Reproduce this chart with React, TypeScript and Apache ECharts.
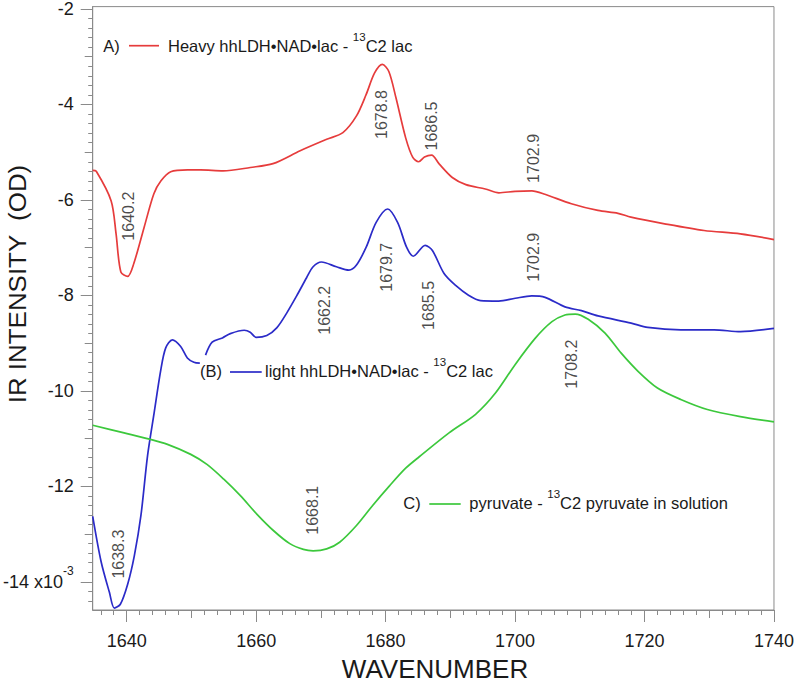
import React, { useEffect, useRef } from "react";
import * as echarts from "echarts";

// ---- Data ----
const redWavenumber = [1634.75, 1635.3, 1637.6, 1638.35, 1639.1, 1640.15, 1641.1, 1642.7, 1644.2, 1645.3, 1646.8, 1649.4, 1651.4, 1654.9, 1659.1, 1662.6, 1666.8, 1670.9, 1673.4, 1675.5, 1677.0, 1678.3, 1679.5, 1680.5, 1681.6, 1683.1, 1684.2, 1685.1, 1686.0, 1687.1, 1688.3, 1690.3, 1692.4, 1695.4, 1697.5, 1700.0, 1702.6, 1704.6, 1708.7, 1712.8, 1715.9, 1717.9, 1723.1, 1729.2, 1734.8, 1740];
const redIntensity = [-5.38, -5.40, -6.02, -6.70, -7.51, -7.60, -7.33, -6.57, -5.87, -5.60, -5.41, -5.37, -5.37, -5.39, -5.32, -5.24, -4.97, -4.73, -4.59, -4.24, -3.79, -3.34, -3.16, -3.31, -3.86, -4.70, -5.11, -5.20, -5.10, -5.06, -5.25, -5.53, -5.68, -5.77, -5.85, -5.82, -5.81, -5.88, -6.08, -6.22, -6.28, -6.36, -6.50, -6.64, -6.71, -6.83];

const blueWavenumber = [1634.75, 1636.05, 1637.33, 1638.1, 1639.02, 1640.15, 1641.17, 1642.2, 1643.22, 1644.24, 1645.27, 1646.03, 1647.06, 1648.34, 1649.37, 1650.38, 1651.3, 1651.7, 1652.18, 1653.2, 1654.79, 1656.01, 1658.16, 1659.08, 1660.01, 1661.65, 1663.18, 1664.72, 1666.26, 1667.79, 1668.8, 1670.09, 1672.4, 1674.33, 1675.47, 1677.0, 1678.54, 1680.32, 1681.85, 1683.24, 1684.27, 1686.11, 1687.23, 1689.03, 1690.82, 1692.86, 1694.66, 1697.47, 1700.03, 1702.58, 1704.64, 1707.71, 1710.26, 1712.82, 1717.94, 1720.5, 1725.61, 1730.74, 1734.83, 1740];
const blueIntensity = [-12.63, -13.58, -14.22, -14.55, -14.47, -14.05, -13.46, -12.61, -11.36, -10.46, -9.56, -9.10, -8.93, -9.07, -9.31, -9.40, -9.42, null, -9.25, -8.98, -8.89, -8.80, -8.73, -8.77, -8.88, -8.84, -8.68, -8.37, -8.01, -7.63, -7.40, -7.30, -7.40, -7.47, -7.37, -6.99, -6.47, -6.19, -6.47, -6.99, -7.18, -6.95, -7.06, -7.54, -7.79, -8.00, -8.11, -8.12, -8.06, -8.01, -8.04, -8.24, -8.32, -8.43, -8.58, -8.67, -8.72, -8.72, -8.76, -8.69];

const greenWavenumber = [1634.75, 1639.6, 1643.5, 1646.3, 1649.9, 1652.4, 1655.0, 1657.6, 1660.1, 1662.7, 1665.2, 1667.3, 1668.8, 1670.9, 1672.9, 1675.5, 1678.0, 1680.6, 1683.1, 1685.2, 1689.8, 1693.9, 1697.0, 1700.0, 1703.1, 1705.7, 1707.7, 1709.3, 1711.3, 1713.9, 1716.4, 1719.0, 1722.0, 1725.6, 1729.7, 1734.8, 1740];
const greenIntensity = [-10.72, -10.88, -11.01, -11.12, -11.33, -11.54, -11.85, -12.20, -12.58, -12.93, -13.20, -13.32, -13.35, -13.31, -13.17, -12.82, -12.40, -11.99, -11.62, -11.38, -10.88, -10.49, -10.04, -9.45, -8.90, -8.55, -8.41, -8.39, -8.50, -8.79, -9.21, -9.59, -9.94, -10.18, -10.39, -10.54, -10.65];

// peak annotations: anchor wavenumber, anchor intensity, text
const peakWavenumber = [1640.27, 1638.66, 1679.43, 1687.03, 1702.84, 1702.92, 1680.12, 1686.57, 1670.6, 1668.76, 1708.68];
const peakIntensity = [-6.34, -13.42, -4.21, -4.45, -5.13, -7.20, -7.41, -8.21, -8.31, -12.5, -9.44];
const peakText = ["1640.2", "1638.3", "1678.8", "1686.5", "1702.9", "1702.9", "1679.7", "1685.5", "1662.2", "1668.1", "1708.2"];

const xMajorTicks = [1640, 1660, 1680, 1700, 1720, 1740];
const xMidTicks = [1650, 1670, 1690, 1710, 1730];
const yMajorTicks = [-14, -12, -10, -8, -6, -4, -2];
const yMidTicks = [-13, -11, -9, -7, -5, -3];
const xMinorTicks = Array.from({ length: 53 }, (_, i) => 1636 + 2 * i);
const yMinorTicks = Array.from({ length: 63 }, (_, i) => Math.round((-14.4 + 0.2 * i) * 10) / 10);

const X_MIN = 1634.75;
const X_MAX = 1740;
const Y_MIN = -14.59;
const Y_MAX = -1.95;

const FONT = "'Liberation Sans', Arial, Helvetica, sans-serif";
const GRAY = "#8a8a8a";
const TEXT = "#1a1a1a";
const RED = "#e63c3c";
const BLUE = "#2b2bc8";
const GREEN = "#3cc83c";

function pairs(xs: number[], ys: (number | null)[]) {
  return xs.map((x, i) => [x, ys[i] === null ? "-" : ys[i]]);
}

function tickAxis(kind: "x" | "y", values: number[], length: number, withLabels: boolean) {
  const isX = kind === "x";
  const axis: any = {
    type: "value",
    min: isX ? X_MIN : Y_MIN,
    max: isX ? X_MAX : Y_MAX,
    position: isX ? "bottom" : "left",
    gridIndex: 0,
    splitLine: { show: false },
    axisLine: { show: withLabels, lineStyle: { color: GRAY, width: 1 } },
    axisTick: {
      show: true,
      inside: false,
      length,
      customValues: values,
      lineStyle: { color: GRAY, width: 1 },
    },
    axisLabel: { show: false },
  };
  if (withLabels) {
    if (isX) {
      axis.axisLabel = {
        show: true,
        customValues: values,
        margin: 22,
        fontSize: 18,
        fontFamily: FONT,
        color: TEXT,
        formatter: (v: number) => String(v),
      };
    } else {
      axis.axisLabel = {
        show: true,
        customValues: values,
        margin: 19,
        fontSize: 18,
        fontFamily: FONT,
        color: TEXT,
        formatter: (v: number) => (v === -14 ? "{m|-14 x10}{s|-3}" : String(v)),
        rich: {
          m: { fontSize: 18, fontFamily: FONT, color: TEXT, lineHeight: 34, verticalAlign: "middle" },
          s: { fontSize: 12, fontFamily: FONT, color: TEXT, lineHeight: 12, verticalAlign: "top" },
        },
      };
    }
  }
  return axis;
}

function legendItem(labelX: number, lineX1: number, lineX2: number, textX: number, cy: number, lineY: number, color: string, tag: string, before: string, after: string) {
  const rich = {
    t: { fontSize: 16.5, fontFamily: FONT, fill: TEXT, lineHeight: 30, verticalAlign: "middle" },
    s: { fontSize: 11.5, fontFamily: FONT, fill: TEXT, lineHeight: 12, verticalAlign: "top" },
  };
  return [
    {
      type: "text",
      x: labelX,
      y: cy,
      silent: true,
      style: { text: tag, fontSize: 16.5, fontFamily: FONT, fill: TEXT, align: "left", verticalAlign: "middle" },
    },
    {
      type: "line",
      silent: true,
      shape: { x1: lineX1, y1: lineY, x2: lineX2, y2: lineY },
      style: { stroke: color, lineWidth: 1.7 },
    },
    {
      type: "text",
      x: textX,
      y: cy,
      silent: true,
      style: {
        text: `{t|${before}}{s|13}{t|${after}}`,
        rich,
        align: "left",
        verticalAlign: "middle",
      },
    },
  ];
}

export default function App() {
  const ref = useRef<HTMLDivElement>(null);

  useEffect(() => {
    if (!ref.current) return;
    const chart = echarts.init(ref.current, null, { renderer: "svg" });

    const lineSeries = (name: string, data: any[], color: string) => ({
      name,
      type: "line",
      xAxisIndex: 0,
      yAxisIndex: 0,
      data,
      showSymbol: false,
      symbol: "none",
      smooth: 0.3,
      connectNulls: false,
      lineStyle: { color, width: 1.7 },
      silent: true,
      z: 3,
    });

    chart.setOption({
      animation: false,
      backgroundColor: "#ffffff",
      grid: {
        left: 91,
        right: 20,
        top: 6,
        bottom: 73,
        show: true,
        borderColor: GRAY,
        borderWidth: 1,
        backgroundColor: "transparent",
      },
      xAxis: [
        tickAxis("x", xMajorTicks, 12, true),
        tickAxis("x", xMidTicks, 8, false),
        tickAxis("x", xMinorTicks, 5, false),
      ],
      yAxis: [
        tickAxis("y", yMajorTicks, 12, true),
        tickAxis("y", yMidTicks, 8, false),
        tickAxis("y", yMinorTicks, 4.5, false),
      ],
      series: [
        lineSeries("A", pairs(redWavenumber, redIntensity), RED),
        lineSeries("B", pairs(blueWavenumber, blueIntensity), BLUE),
        lineSeries("C", pairs(greenWavenumber, greenIntensity), GREEN),
        {
          type: "scatter",
          xAxisIndex: 0,
          yAxisIndex: 0,
          silent: true,
          symbolSize: 1,
          itemStyle: { color: "transparent" },
          z: 4,
          data: peakWavenumber.map((w, i) => ({ value: [w, peakIntensity[i]], name: peakText[i] })),
          label: {
            show: true,
            position: "inside",
            rotate: 90,
            formatter: (p: any) => p.name,
            fontSize: 16,
            fontFamily: FONT,
            color: TEXT,
          },
        },
      ],
      graphic: [
        {
          type: "text",
          x: 435,
          y: 669,
          silent: true,
          style: { text: "WAVENUMBER", fontSize: 26, lineHeight: 26, fontFamily: FONT, fill: TEXT, align: "center", verticalAlign: "middle" },
        },
        {
          type: "text",
          x: 17,
          y: 284,
          rotation: Math.PI / 2,
          scaleX: 1.08,
          silent: true,
          style: { text: "IR INTENSITY  (OD)", fontSize: 24, fontFamily: FONT, fill: TEXT, align: "center", verticalAlign: "middle" },
        },
        ...legendItem(103.3, 129, 159, 168, 45.5, 45.7, RED, "A)", "Heavy hhLDH•NAD•lac - ", "C2 lac"),
        ...legendItem(200, 230, 261.7, 265, 370.5, 372, BLUE, "(B)", "light hhLDH•NAD•lac - ", "C2 lac"),
        ...legendItem(403.3, 429.3, 460.7, 469.3, 503, 504, GREEN, "C)", "pyruvate - ", "C2 pyruvate in solution"),
      ],
    });

    return () => {
      chart.dispose();
    };
  }, []);

  return (
    <div
      ref={ref}
      style={{ position: "absolute", left: 0, top: 0, width: 797, height: 683, background: "#fff" }}
    />
  );
}
